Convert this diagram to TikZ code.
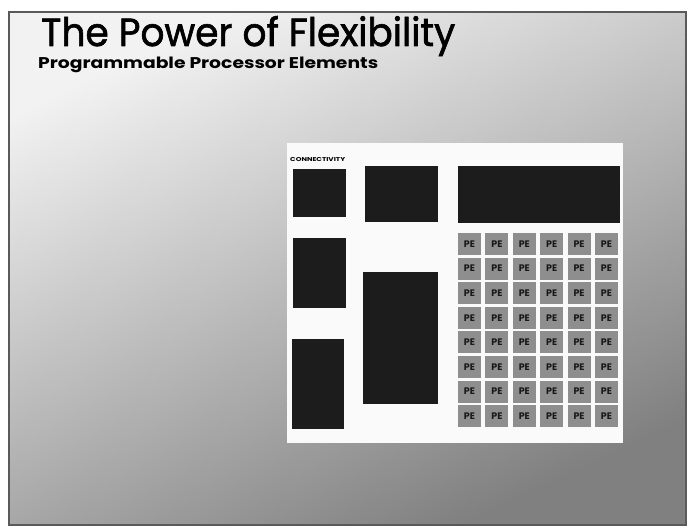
\documentclass[tikz,border=0pt]{standalone}
\usepackage{fontspec}
\setmainfont{Poppins}
\newfontfamily\titlefont[FakeBold=1.6]{Poppins}
\usepackage{graphicx}
\definecolor{boxblack}{HTML}{1C1C1C}
\definecolor{pegray}{HTML}{8E8E8E}
\definecolor{panelwhite}{HTML}{FAFAFA}
\definecolor{framegray}{HTML}{5A5A5A}
\begin{document}
\begin{tikzpicture}[x=1pt,y=-1pt,
  blk/.style={draw=none,fill=boxblack,anchor=north west,inner sep=0pt,outer sep=0pt},
  pebox/.style={fill=pegray,draw=none,anchor=north west,inner sep=0pt,outer sep=0pt,
    minimum width=23pt,minimum height=22pt,font=\bfseries\fontsize{9.5}{9.5}\selectfont,text=black!90}]
\useasboundingbox (0,0) rectangle (689,529);
\fill[white] (0,0) rectangle (689,529);
% graded background inside the frame
\shade[shading=axis,top color=black!5,bottom color=black!50,shading angle=25]
  (9,12) rectangle (686,525);
\draw[framegray,line width=1.4pt] (9,12) rectangle (686,525);
% titles
\node[anchor=base west,inner sep=0pt] (title) at (41,46)
  {\resizebox{414pt}{30pt}{\titlefont The Power of Flexibility}};
\node[anchor=base west,inner sep=0pt] (subtitle) at (38,69)
  {\resizebox{340pt}{11.5pt}{\bfseries Programmable Processor Elements}};
% white panel
\node[fill=panelwhite,draw=none,anchor=north west,inner sep=0pt,
  minimum width=336pt,minimum height=300pt] (panel) at (287,143) {};
\node[anchor=base west,inner sep=0pt] (conn) at (290,162)
  {\resizebox{55pt}{4pt}{\bfseries CONNECTIVITY}};
% left column blocks
\node[blk,minimum width=53pt,minimum height=48pt] (c1) at (293,169) {};
\node[blk,minimum width=53pt,minimum height=70pt] (c2) at (293,238) {};
\node[blk,minimum width=52pt,minimum height=90pt] (c3) at (292,339) {};
% middle blocks
\node[blk,minimum width=73pt,minimum height=56pt] (m1) at (365,166) {};
\node[blk,minimum width=75pt,minimum height=132pt] (m2) at (363,272) {};
% right top block
\node[blk,minimum width=162pt,minimum height=57pt] (r1) at (458,166) {};
% PE grid
\foreach \i in {0,...,5}{
  \foreach \j in {0,...,7}{
    \node[pebox] (pe-\i-\j) at ({458+27.4*\i},{233+24.6*\j}) {PE};
  }
}
\end{tikzpicture}
\end{document}
